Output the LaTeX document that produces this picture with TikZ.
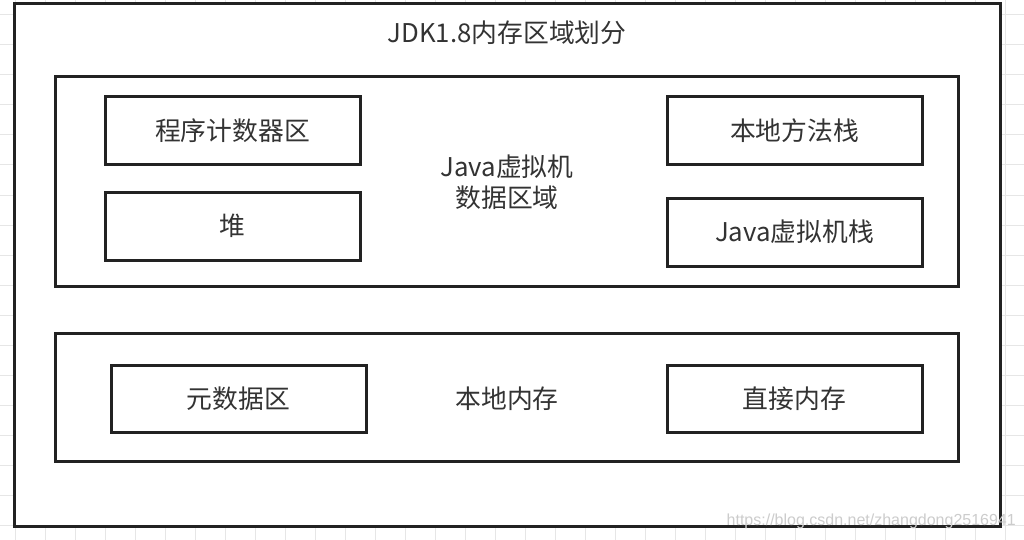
\documentclass[tikz,border=0pt]{standalone}
\usepackage{fontspec}
\setmainfont{Noto Sans CJK SC}
\newfontfamily\wmfont{Liberation Sans}
\definecolor{boxline}{HTML}{222222}
\definecolor{txt}{HTML}{333333}
\definecolor{gridc}{HTML}{E6E6E6}
\begin{document}
\begin{tikzpicture}[x=1pt,y=-1pt,
  box/.style={draw=boxline,line width=3pt,fill=white,inner sep=0pt,outer sep=0pt},
  lbl/.style={text=txt,font=\fontsize{25.8}{31}\selectfont,align=center,inner sep=0pt}]
\useasboundingbox (0,0) rectangle (1024,540);
\fill[white] (0,0) rectangle (1024,540);
% grid
\foreach \i in {0,...,34} {\draw[gridc,line width=1pt] (15+30*\i,0) -- (15+30*\i,540);}
\foreach \j in {0,...,17} {\draw[gridc,line width=1pt] (0,15+30*\j) -- (1024,15+30*\j);}
% outer
\node[box,minimum width=986pt,minimum height=522pt] (outer) at (507,265) {};
\node[lbl] (title) at (507,33) {JDK1.8内存区域划分};
% JVM data area
\node[box,minimum width=903pt,minimum height=209pt] (jvm) at (506.5,181.5) {};
\node[lbl] (jvmlbl) at (507,182) {Java虚拟机\\数据区域};
\node[box,minimum width=255pt,minimum height=68pt] (pc) at (232.5,131) {};
\node[lbl] at (pc) {程序计数器区};
\node[box,minimum width=255pt,minimum height=68pt] (heap) at (232.5,226) {};
\node[lbl] at (heap) {堆};
\node[box,minimum width=255pt,minimum height=68pt] (nms) at (794.5,131) {};
\node[lbl] at (nms) {本地方法栈};
\node[box,minimum width=255pt,minimum height=68pt] (jvms) at (794.5,232) {};
\node[lbl] at (jvms) {Java虚拟机栈};
% native memory
\node[box,minimum width=903pt,minimum height=128pt] (native) at (506.5,397.5) {};
\node[lbl] (nativelbl) at (507,399) {本地内存};
\node[box,minimum width=255pt,minimum height=67pt] (meta) at (238.5,398.5) {};
\node[lbl] at (meta) {元数据区};
\node[box,minimum width=255pt,minimum height=67pt] (direct) at (794.5,398.5) {};
\node[lbl] at (direct) {直接内存};
% watermark
\node[text=gray!40,font=\wmfont\fontsize{16}{19}\selectfont,inner sep=0pt,anchor=east] (wm) at (1016,521) {https://blog.csdn.net/zhangdong2516941};
\end{tikzpicture}
\end{document}
